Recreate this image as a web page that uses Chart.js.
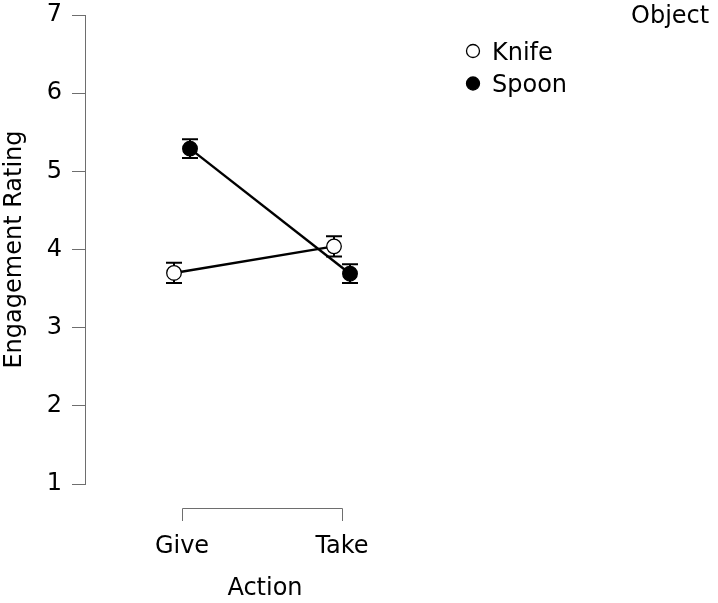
<!DOCTYPE html>
<html>
<head>
<meta charset="utf-8">
<script src="https://cdn.jsdelivr.net/npm/chart.js@4/dist/chart.umd.min.js"></script>
<style>
  html, body { margin: 0; padding: 0; background: #fff; }
  #wrap { width: 718px; height: 603px; }
</style>
</head>
<body>
<div id="wrap"><canvas id="c" width="718" height="603"></canvas></div>
<script>
// Engagement rating by action and object (means with error bars)
const actions = ['Give', 'Take'];
const objects = ['Knife', 'Spoon'];
const knifeMeans = [3.70, 4.04];
const spoonMeans = [5.29, 3.69];
const knifeErrors = [0.13, 0.13];
const spoonErrors = [0.12, 0.12];
const yTicks = [1, 2, 3, 4, 5, 6, 7];

const FONT = 'DejaVu Sans';
const AXIS_COLOR = '#6e6e6e';
const dodge = 0.05; // horizontal offset between the two objects within an action

function toPoints(means, offset) {
  return means.map((m, i) => ({ x: i + offset, y: m }));
}

// Vertical error bars with caps, drawn beneath the points
const errorBars = {
  id: 'errorBars',
  beforeDatasetsDraw(chart) {
    const ctx = chart.ctx;
    const yScale = chart.scales.y;
    ctx.save();
    ctx.strokeStyle = '#000';
    ctx.lineWidth = 2;
    chart.data.datasets.forEach((ds, di) => {
      const meta = chart.getDatasetMeta(di);
      meta.data.forEach((el, i) => {
        const err = ds.errors[i];
        const mean = ds.data[i].y;
        const x = el.x;
        const yHi = yScale.getPixelForValue(mean + err);
        const yLo = yScale.getPixelForValue(mean - err);
        const cap = 8;
        ctx.beginPath();
        ctx.moveTo(x, yHi); ctx.lineTo(x, yLo);
        ctx.moveTo(x - cap, yHi); ctx.lineTo(x + cap, yHi);
        ctx.moveTo(x - cap, yLo); ctx.lineTo(x + cap, yLo);
        ctx.stroke();
      });
    });
    ctx.restore();
  }
};

// Bracket-style x axis spanning the first to the last action
const xBracket = {
  id: 'xBracket',
  afterDraw(chart) {
    const ctx = chart.ctx;
    const xs = chart.scales.x;
    const y0 = chart.chartArea.bottom + 24;
    const x0 = xs.getPixelForValue(0);
    const x1 = xs.getPixelForValue(actions.length - 1);
    ctx.save();
    ctx.strokeStyle = AXIS_COLOR;
    ctx.lineWidth = 1;
    ctx.beginPath();
    ctx.moveTo(Math.round(x0) + 0.5, y0 + 13);
    ctx.lineTo(Math.round(x0) + 0.5, y0 + 0.5);
    ctx.lineTo(Math.round(x1) + 0.5, y0 + 0.5);
    ctx.lineTo(Math.round(x1) + 0.5, y0 + 13);
    ctx.stroke();
    ctx.restore();
  }
};

// Legend with a title, placed at the top right
const objectLegend = {
  id: 'objectLegend',
  afterDraw(chart) {
    const ctx = chart.ctx;
    ctx.save();
    ctx.font = '24px "' + FONT + '"';
    ctx.fillStyle = '#000';
    ctx.textBaseline = 'alphabetic';
    ctx.textAlign = 'left';
    ctx.fillText('Object', 631, 22.5);
    const rows = [59.5, 92];
    chart.data.datasets.forEach((ds, i) => {
      const base = rows[i];
      ctx.beginPath();
      ctx.arc(473, base - 8.5, 6.5, 0, Math.PI * 2);
      ctx.fillStyle = ds.pointBackgroundColor;
      ctx.fill();
      ctx.lineWidth = 1.3;
      ctx.strokeStyle = '#000';
      ctx.stroke();
      ctx.fillStyle = '#000';
      ctx.fillText(ds.label, 492, base);
    });
    ctx.restore();
  }
};

Chart.defaults.font.family = FONT;
Chart.defaults.font.size = 24;
Chart.defaults.color = '#000';

new Chart(document.getElementById('c'), {
  type: 'line',
  data: {
    datasets: [
      {
        label: objects[0],
        data: toPoints(knifeMeans, -dodge),
        errors: knifeErrors,
        borderColor: '#000',
        borderWidth: 2.4,
        pointRadius: 7.3,
        pointBorderWidth: 1.3,
        pointBackgroundColor: '#fff',
        pointBorderColor: '#000',
        fill: false,
        tension: 0
      },
      {
        label: objects[1],
        data: toPoints(spoonMeans, dodge),
        errors: spoonErrors,
        borderColor: '#000',
        borderWidth: 2.4,
        pointRadius: 7.3,
        pointBorderWidth: 1.3,
        pointBackgroundColor: '#000',
        pointBorderColor: '#000',
        fill: false,
        tension: 0
      }
    ]
  },
  options: {
    responsive: false,
    animation: false,
    devicePixelRatio: 1,
    layout: { padding: { top: 15, right: 273, left: 0, bottom: 0 } },
    plugins: {
      legend: { display: false },
      tooltip: { enabled: false }
    },
    scales: {
      x: {
        type: 'linear',
        min: -0.60625,
        max: 1.64375,
        afterBuildTicks(scale) {
          scale.ticks = actions.map((_, i) => ({ value: i }));
        },
        afterFit(scale) {
          scale.height = 119;
          scale.paddingLeft = 0;
          scale.paddingRight = 0;
        },
        ticks: {
          autoSkip: false,
          maxRotation: 0,
          padding: 48,
          callback: (v) => actions[v]
        },
        grid: { display: false, drawTicks: false },
        border: { display: false },
        title: { display: true, text: 'Action', padding: { top: 0, bottom: 0 } }
      },
      y: {
        min: yTicks[0],
        max: yTicks[yTicks.length - 1],
        afterBuildTicks(scale) {
          scale.ticks = yTicks.map(v => ({ value: v }));
        },
        afterFit(scale) {
          scale.width = 85;
          scale.paddingTop = 0;
          scale.paddingBottom = 0;
        },
        ticks: { padding: 10 },
        grid: {
          display: true,
          drawOnChartArea: false,
          drawTicks: true,
          tickLength: 13,
          color: AXIS_COLOR,
          lineWidth: 1
        },
        border: { display: true, color: AXIS_COLOR, width: 1 },
        title: { display: true, text: 'Engagement Rating', padding: { top: 0, bottom: 0 } }
      }
    }
  },
  plugins: [errorBars, xBracket, objectLegend]
});
</script>
</body>
</html>
